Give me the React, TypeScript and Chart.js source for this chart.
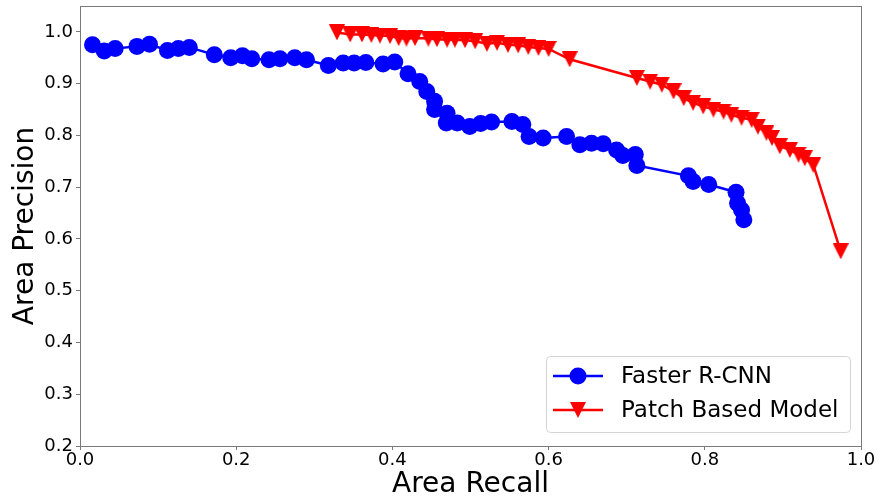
import React, { useEffect, useRef } from 'react';
import { Chart, registerables } from 'chart.js';

Chart.register(...registerables);

const seriesLabels = ['Faster R-CNN', 'Patch Based Model'];
const xTitle = 'Area Recall';
const yTitle = 'Area Precision';

const fasterRecall = [
  0.016, 0.031, 0.045, 0.073, 0.089, 0.112, 0.126, 0.140, 0.172, 0.193, 0.208, 0.220, 0.242,
  0.256, 0.275, 0.290, 0.318, 0.337, 0.351, 0.366, 0.388, 0.403, 0.420, 0.435, 0.444, 0.454,
  0.454, 0.470, 0.469, 0.483, 0.499, 0.513, 0.527, 0.553, 0.567, 0.575, 0.593, 0.623, 0.640,
  0.655, 0.670, 0.687, 0.695, 0.711, 0.713, 0.779, 0.785, 0.805, 0.840, 0.842, 0.847, 0.850,
];
const fasterPrecision = [
  0.975, 0.963, 0.968, 0.972, 0.976, 0.964, 0.968, 0.970, 0.956, 0.950, 0.954, 0.948, 0.946,
  0.948, 0.950, 0.946, 0.935, 0.940, 0.940, 0.941, 0.938, 0.942, 0.919, 0.904, 0.885, 0.866,
  0.850, 0.843, 0.824, 0.824, 0.817, 0.823, 0.826, 0.827, 0.821, 0.798, 0.795, 0.798, 0.782,
  0.785, 0.784, 0.772, 0.761, 0.763, 0.742, 0.722, 0.711, 0.705, 0.690, 0.669, 0.656, 0.637,
];

const patchRecall = [
  0.329, 0.346, 0.361, 0.373, 0.384, 0.397, 0.408, 0.418, 0.429, 0.446, 0.457, 0.470, 0.480,
  0.493, 0.506, 0.521, 0.534, 0.548, 0.561, 0.574, 0.587, 0.600, 0.627, 0.713, 0.730, 0.745,
  0.760, 0.773, 0.785, 0.798, 0.811, 0.824, 0.834, 0.847, 0.860, 0.868, 0.879, 0.886, 0.896,
  0.909, 0.920, 0.928, 0.939, 0.974,
];
const patchPrecision = [
  0.999, 0.995, 0.995, 0.994, 0.993, 0.992, 0.988, 0.987, 0.988, 0.987, 0.986, 0.985, 0.985,
  0.984, 0.982, 0.977, 0.979, 0.975, 0.974, 0.971, 0.969, 0.967, 0.947, 0.911, 0.904, 0.898,
  0.885, 0.872, 0.863, 0.856, 0.850, 0.846, 0.840, 0.834, 0.830, 0.817, 0.805, 0.795, 0.779,
  0.772, 0.763, 0.756, 0.743, 0.576,
];

const xTickValues = [0.0, 0.2, 0.4, 0.6, 0.8, 1.0];
const yTickValues = [0.2, 0.3, 0.4, 0.5, 0.6, 0.7, 0.8, 0.9, 1.0];

const FONT = '"DejaVu Sans", sans-serif';
const SPINE = '#7a7a7a';

function makeTriangle(size: number, color: string): HTMLCanvasElement {
  const c = document.createElement('canvas');
  c.width = size;
  c.height = size;
  const g = c.getContext('2d')!;
  g.fillStyle = color;
  g.beginPath();
  g.moveTo(0, 0);
  g.lineTo(size, 0);
  g.lineTo(size / 2, size);
  g.closePath();
  g.fill();
  return c;
}

const framePlugin = {
  id: 'frameBox',
  afterDatasetsDraw(chart: any) {
    const { ctx, chartArea: ca } = chart;
    ctx.save();
    ctx.strokeStyle = SPINE;
    ctx.lineWidth = 1;
    ctx.strokeRect(Math.round(ca.left) + 0.5, Math.round(ca.top) + 0.5, Math.round(ca.right - ca.left), Math.round(ca.bottom - ca.top));
    ctx.restore();
  },
};

const legendPlugin = {
  id: 'mplLegend',
  afterDraw(chart: any) {
    const { ctx, chartArea: ca } = chart;
    const w = 304;
    const h = 76;
    const x0 = Math.round(ca.right - 11 - w);
    const y0 = Math.round(ca.bottom - 14 - h);
    ctx.save();
    ctx.beginPath();
    ctx.roundRect(x0 + 0.5, y0 + 0.5, w, h, 4);
    ctx.fillStyle = 'rgba(255,255,255,0.8)';
    ctx.fill();
    ctx.strokeStyle = '#d5d5d5';
    ctx.lineWidth = 1;
    ctx.stroke();
    chart.data.datasets.forEach((ds: any, i: number) => {
      const cy = y0 + 20 + i * 34;
      ctx.strokeStyle = ds.borderColor;
      ctx.lineWidth = ds.borderWidth;
      ctx.beginPath();
      ctx.moveTo(x0 + 7, cy);
      ctx.lineTo(x0 + 57, cy);
      ctx.stroke();
      const mx = x0 + 32;
      if (ds.pointStyle === 'circle') {
        ctx.fillStyle = ds.pointBackgroundColor;
        ctx.beginPath();
        ctx.arc(mx, cy, ds.pointRadius, 0, Math.PI * 2);
        ctx.fill();
      } else {
        const img = ds.pointStyle as HTMLCanvasElement;
        ctx.drawImage(img, mx - img.width / 2, cy - img.height / 2);
      }
      ctx.fillStyle = '#000';
      ctx.font = `23px ${FONT}`;
      ctx.textBaseline = 'middle';
      ctx.textAlign = 'left';
      ctx.fillText(ds.label, x0 + 75, cy + 1);
    });
    ctx.restore();
  },
};

export default function App() {
  const canvasRef = useRef<HTMLCanvasElement | null>(null);

  useEffect(() => {
    const canvas = canvasRef.current;
    if (!canvas) return;
    const tri = makeTriangle(16, '#ff0000');

    const fasterData = fasterRecall.map((x, i) => ({ x, y: fasterPrecision[i] }));
    const patchData = patchRecall.map((x, i) => ({ x, y: patchPrecision[i] }));

    const tickGrid = {
      display: true,
      drawOnChartArea: false,
      drawTicks: true,
      tickLength: 4,
      color: SPINE,
      lineWidth: 1,
    };

    const chart = new Chart(canvas, {
      type: 'line',
      data: {
        datasets: [
          {
            label: seriesLabels[0],
            data: fasterData,
            borderColor: '#0000ff',
            backgroundColor: '#0000ff',
            pointBackgroundColor: '#0000ff',
            pointBorderWidth: 0,
            pointRadius: 8.5,
            pointStyle: 'circle',
            borderWidth: 2.5,
            tension: 0,
            fill: false,
            order: 2,
          } as any,
          {
            label: seriesLabels[1],
            data: patchData,
            borderColor: '#ff0000',
            backgroundColor: '#ff0000',
            pointBackgroundColor: '#ff0000',
            pointBorderWidth: 0,
            pointRadius: 8,
            pointStyle: tri,
            borderWidth: 2.5,
            tension: 0,
            fill: false,
            order: 1,
          } as any,
        ],
      },
      options: {
        animation: false,
        responsive: true,
        maintainAspectRatio: false,
        layout: { autoPadding: false, padding: { top: 6, right: 21, left: 0, bottom: 0 } },
        plugins: {
          legend: { display: false },
          tooltip: { enabled: false },
        },
        scales: {
          x: {
            type: 'linear',
            min: 0,
            max: 1,
            afterBuildTicks: (axis: any) => {
              axis.ticks = xTickValues.map((v) => ({ value: v }));
            },
            afterFit: (axis: any) => {
              axis.height = 56;
              axis.paddingLeft = 0;
              axis.paddingRight = 0;
            },
            grid: tickGrid,
            border: { display: false },
            ticks: {
              autoSkip: false,
              maxRotation: 0,
              padding: 0,
              color: '#000',
              font: { family: FONT, size: 18 },
              callback: (v: any) => Number(v).toFixed(1),
            },
            title: {
              display: true,
              text: xTitle,
              color: '#000',
              font: { family: FONT, size: 28 },
              padding: { top: 0, bottom: 0 },
            },
          },
          y: {
            type: 'linear',
            min: 0.2,
            max: 1.05,
            afterBuildTicks: (axis: any) => {
              axis.ticks = yTickValues.map((v) => ({ value: v }));
            },
            afterFit: (axis: any) => {
              axis.width = 80;
              axis.paddingTop = 0;
              axis.paddingBottom = 0;
            },
            grid: tickGrid,
            border: { display: false },
            ticks: {
              autoSkip: false,
              padding: 3,
              color: '#000',
              font: { family: FONT, size: 18 },
              callback: (v: any) => Number(v).toFixed(1),
            },
            title: {
              display: true,
              text: yTitle,
              color: '#000',
              font: { family: FONT, size: 28 },
              padding: { top: 9, bottom: 0 },
            },
          },
        },
      } as any,
      plugins: [framePlugin, legendPlugin],
    });

    return () => {
      chart.destroy();
    };
  }, []);

  return (
    <div style={{ position: 'fixed', left: 0, top: 0, width: 882, height: 502, background: '#fff' }}>
      <canvas ref={canvasRef} />
    </div>
  );
}
